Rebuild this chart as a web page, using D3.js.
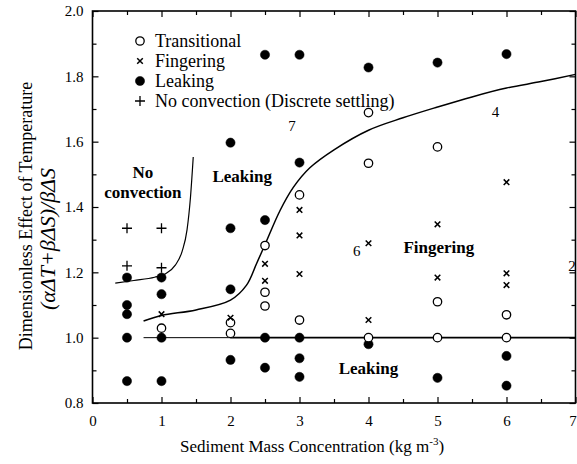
<!DOCTYPE html>
<html>
<head>
<meta charset="utf-8">
<script src="https://cdn.jsdelivr.net/npm/d3@7"></script>
<style>
  body { margin: 0; background: #fff; }
  svg text { font-family: "Liberation Serif", "Times New Roman", serif; fill: #000; }
</style>
</head>
<body>
<div id="chart"></div>
<script>
// values: [concentration, dimensionless effect]
const transitional = [[1, 1.029], [2, 1.046], [2, 1.013], [2.5, 1.282], [2.5, 1.139], [2.5, 1.097],
  [3, 1.437], [3, 1.054], [4, 1.689], [4, 1.534], [4, 1.0], [5, 1.584], [5, 1.11], [5, 1.0],
  [6, 1.07], [6, 1.0]];
const fingering = [[1, 1.072], [2, 1.061], [2.5, 1.226], [2.5, 1.174], [3, 1.391], [3, 1.313],
  [3, 1.195], [4, 1.289], [4, 1.054], [5, 1.347], [5, 1.184], [6, 1.476], [6, 1.197], [6, 1.161]];
const leaking = [[0.5, 1.184], [0.5, 1.1], [0.5, 1.072], [0.5, 1.0], [0.5, 0.867],
  [1, 1.184], [1, 1.133], [1, 1.0], [1, 0.867], [2, 1.597], [2, 1.335], [2, 1.148], [2, 0.932],
  [2.5, 1.866], [2.5, 1.36], [2.5, 1.0], [2.5, 0.908], [3, 1.866], [3, 1.536], [3, 1.0],
  [3, 0.937], [3, 0.88], [4, 1.827], [4, 0.98], [5, 1.842], [5, 0.877], [6, 1.868], [6, 0.944],
  [6, 0.853]];
const noConvection = [[0.5, 1.335], [0.5, 1.22], [1, 1.335], [1, 1.214]];

// regime boundaries
const noConvBoundary = [[0.33, 1.167], [0.6, 1.175], [0.9, 1.185], [1.05, 1.195], [1.2, 1.222],
  [1.3, 1.265], [1.37, 1.33], [1.42, 1.43], [1.46, 1.553]];
const fingerBoundary = [[0.74, 1.051], [1.0, 1.068], [1.5, 1.085], [2.0, 1.115], [2.23, 1.16],
  [2.38, 1.228], [2.5, 1.285], [2.72, 1.39], [2.91, 1.46], [3.15, 1.52], [3.5, 1.575],
  [4.0, 1.635], [4.5, 1.673], [5.0, 1.706], [5.5, 1.737], [6.0, 1.764], [6.5, 1.784], [7.0, 1.806]];
const unityThin = [[0.74, 1.0], [2.0, 1.0]];
const unityThick = [[2.0, 1.0], [7.0, 1.0]];

const xTicks = [0, 1, 2, 3, 4, 5, 6, 7];
const yTicks = [0.8, 1.0, 1.2, 1.4, 1.6, 1.8, 2.0];
const legendLabels = ["Transitional", "Fingering", "Leaking", "No convection (Discrete settling)"];
const regionLabels = [
  { text: "No", x: 0.73, y: 1.5 },
  { text: "convection", x: 0.73, y: 1.44 },
  { text: "Leaking", x: 2.17, y: 1.49 },
  { text: "Fingering", x: 5.02, y: 1.27 },
  { text: "Leaking", x: 4.0, y: 0.9 }
];
const curveNumbers = [
  { text: "7", x: 2.89, y: 1.642 },
  { text: "6", x: 3.83, y: 1.259 },
  { text: "4", x: 5.84, y: 1.687 },
  { text: "2", x: 6.95, y: 1.215 }
];

const W = 577, H = 464;
const margin = { top: 11, right: 1.5, bottom: 61, left: 92.5 };
const width = W - margin.left - margin.right;
const height = H - margin.top - margin.bottom;

const svgRoot = d3.select("#chart").append("svg").attr("width", W).attr("height", H);
const svg = svgRoot.append("g").attr("transform", `translate(${margin.left},${margin.top})`);

const x = d3.scaleLinear().domain([0, 7]).range([0, width]);
const y = d3.scaleLinear().domain([0.8, 2.0]).range([height, 0]);

// ticks point inward on all four sides
const minorX = d3.range(0.5, 7, 1);
const minorY = d3.range(0.9, 2.0, 0.2);
const styleAxis = (g) => {
  g.select(".domain").remove();
  g.selectAll("line").attr("stroke", "#000").attr("stroke-width", 1.2);
};
svg.append("g").attr("transform", `translate(0,${height})`)
  .call(d3.axisBottom(x).tickValues(xTicks).tickSize(-6).tickPadding(12).tickFormat(d3.format("d")))
  .call(styleAxis)
  .selectAll("text").attr("font-size", 15).attr("font-family", "Liberation Serif")
  .attr("dx", (d) => (d === 7 ? -3 : 0));
svg.append("g").attr("transform", `translate(0,${height})`)
  .call(d3.axisBottom(x).tickValues(minorX).tickSize(-4).tickFormat(""))
  .call(styleAxis);
svg.append("g")
  .call(d3.axisTop(x).tickValues(xTicks).tickSize(-6).tickFormat(""))
  .call(styleAxis);
svg.append("g")
  .call(d3.axisTop(x).tickValues(minorX).tickSize(-4).tickFormat(""))
  .call(styleAxis);
svg.append("g")
  .call(d3.axisLeft(y).tickValues(yTicks).tickSize(-6).tickPadding(9).tickFormat(d3.format(".1f")))
  .call(styleAxis)
  .selectAll("text").attr("font-size", 15).attr("font-family", "Liberation Serif");
svg.append("g")
  .call(d3.axisLeft(y).tickValues(minorY).tickSize(-4).tickFormat(""))
  .call(styleAxis);
svg.append("g").attr("transform", `translate(${width},0)`)
  .call(d3.axisRight(y).tickValues(yTicks).tickSize(-6).tickFormat(""))
  .call(styleAxis);
svg.append("g").attr("transform", `translate(${width},0)`)
  .call(d3.axisRight(y).tickValues(minorY).tickSize(-4).tickFormat(""))
  .call(styleAxis);

svg.append("rect")
  .attr("width", width).attr("height", height)
  .attr("fill", "none").attr("stroke", "#000").attr("stroke-width", 1.6);

// boundaries
const line = d3.line().x((d) => x(d[0])).y((d) => y(d[1]));
svg.append("path").datum(noConvBoundary)
  .attr("d", line.curve(d3.curveMonotoneX))
  .attr("fill", "none").attr("stroke", "#000").attr("stroke-width", 1.2);
svg.append("path").datum(fingerBoundary)
  .attr("d", line.curve(d3.curveCatmullRom))
  .attr("fill", "none").attr("stroke", "#000").attr("stroke-width", 1.5);
svg.append("path").datum(unityThin)
  .attr("d", line.curve(d3.curveLinear))
  .attr("fill", "none").attr("stroke", "#000").attr("stroke-width", 1);
svg.append("path").datum(unityThick)
  .attr("d", line.curve(d3.curveLinear))
  .attr("fill", "none").attr("stroke", "#000").attr("stroke-width", 1.8);

// marker helpers
const drawCircle = (g, cx, cy, open) =>
  g.append("circle").attr("cx", cx).attr("cy", cy)
    .attr("r", open ? 4.2 : 4.6)
    .attr("fill", open ? "#fff" : "#000")
    .attr("stroke", "#000").attr("stroke-width", open ? 1.3 : 0.5);
const drawCross = (g, cx, cy) =>
  g.append("path")
    .attr("d", `M${cx - 2.8},${cy - 2.8}L${cx + 2.8},${cy + 2.8}M${cx - 2.8},${cy + 2.8}L${cx + 2.8},${cy - 2.8}`)
    .attr("stroke", "#000").attr("stroke-width", 1.5);
const drawPlus = (g, cx, cy) =>
  g.append("path")
    .attr("d", `M${cx - 5},${cy}L${cx + 5},${cy}M${cx},${cy - 5}L${cx},${cy + 5}`)
    .attr("stroke", "#000").attr("stroke-width", 1.3);

const marks = svg.append("g");
leaking.forEach((d) => drawCircle(marks, x(d[0]), y(d[1]), false));
transitional.forEach((d) => drawCircle(marks, x(d[0]), y(d[1]), true));
fingering.forEach((d) => drawCross(marks, x(d[0]), y(d[1])));
noConvection.forEach((d) => drawPlus(marks, x(d[0]), y(d[1])));

// legend
const legend = svgRoot.append("g");
legendLabels.forEach((label, i) => {
  const ly = 41 + i * 20;
  if (i === 0) drawCircle(legend, 140, ly, true);
  if (i === 1) drawCross(legend, 140, ly);
  if (i === 2) drawCircle(legend, 140, ly, false);
  if (i === 3) drawPlus(legend, 140, ly);
  legend.append("text")
    .attr("x", 155).attr("y", ly + 6)
    .attr("font-size", 18)
    .text(label);
});

// region labels
svg.selectAll(".region").data(regionLabels).join("text")
  .attr("class", "region")
  .attr("x", (d) => x(d.x)).attr("y", (d) => y(d.y))
  .attr("text-anchor", "middle").attr("dominant-baseline", "middle")
  .attr("font-size", 17).attr("font-weight", "bold")
  .text((d) => d.text);

svg.selectAll(".num").data(curveNumbers).join("text")
  .attr("class", "num")
  .attr("x", (d) => x(d.x)).attr("y", (d) => y(d.y))
  .attr("text-anchor", "middle").attr("dominant-baseline", "middle")
  .attr("font-size", 15)
  .text((d) => d.text);

// axis titles
const xt = svgRoot.append("text")
  .attr("x", 312).attr("y", 452)
  .attr("text-anchor", "middle").attr("font-size", 17);
xt.append("tspan").text("Sediment Mass Concentration (kg m");
xt.append("tspan").attr("font-size", 11).attr("dy", -7).text("-3");
xt.append("tspan").attr("dy", 7).text(")");

svgRoot.append("text")
  .attr("transform", "translate(32,216) rotate(-90)")
  .attr("text-anchor", "middle").attr("font-size", 18)
  .text("Dimensionless Effect of Temperature");
svgRoot.append("text")
  .attr("transform", "translate(55,239) rotate(-90)")
  .attr("text-anchor", "middle").attr("font-size", 22).attr("font-style", "italic")
  .text("(αΔT+βΔS)/βΔS");
</script>
</body>
</html>
